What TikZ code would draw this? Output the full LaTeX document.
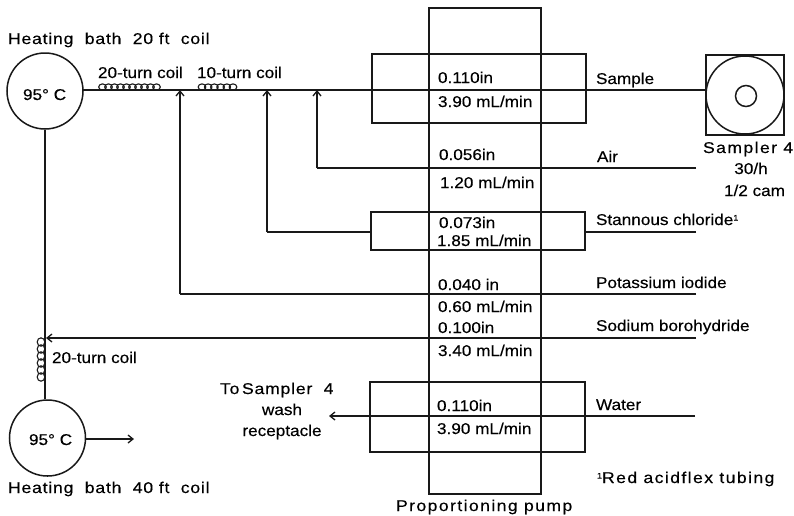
\documentclass[tikz,border=0pt]{standalone}
\usetikzlibrary{arrows.meta}
\usepackage{fontspec}
\setmainfont{Liberation Sans}[FakeStretch=1.1,FakeBold=0.3]
\newfontfamily\wide{Liberation Sans}[FakeStretch=1.13,LetterSpace=5,FakeBold=0.3]
\newfontfamily\widest{Liberation Sans}[FakeStretch=1.13,LetterSpace=9,FakeBold=0.3]
\begin{document}
\begin{tikzpicture}[x=1pt,y=-1pt,
  pipe/.style={line width=1.1pt,black!90},
  rim/.style={line width=1.5pt,black!90},
  flow/.style={pipe,-{Straight Barb[length=5pt,width=8pt,line width=1.3pt]}},
  lab/.style={anchor=base west,inner sep=0pt,outer sep=0pt,font=\fontsize{15.6}{17}\selectfont},
  widelab/.style={anchor=base west,inner sep=0pt,outer sep=0pt,font=\fontsize{15.6}{17}\selectfont\wide},
  widestlab/.style={anchor=base west,inner sep=0pt,outer sep=0pt,font=\fontsize{15.6}{17}\selectfont\widest},
  cen/.style={anchor=base,inner sep=0pt,outer sep=0pt,font=\fontsize{15.6}{17}\selectfont},
  bath/.style={circle,draw,rim,minimum size=76pt,inner sep=0pt},
  tube/.style={rectangle,draw,rim,inner sep=0pt},
  turn/.style={line width=1.1pt,black!90}
]
\useasboundingbox (0,0) rectangle (794,515);
% pump and tube boxes
\node[tube,minimum width=112pt,minimum height=486pt] (pump) at (485,251) {};
\node[tube,minimum width=214pt,minimum height=69pt] (sbox) at (479,88.5) {};
\node[tube,minimum width=214pt,minimum height=38pt] (cbox) at (478,231) {};
\node[tube,minimum width=215pt,minimum height=70pt] (wbox) at (477.5,417) {};
% baths and sampler
\node[bath] (b1) at (45,91) {};
\node[bath] (b2) at (47.5,438) {};
\node[tube,minimum width=78pt,minimum height=80pt] (samp) at (745,95) {};
\node[circle,draw,rim,minimum size=78pt,inner sep=0pt] (disc) at (745,95) {};
\node[circle,draw,rim,minimum size=21pt,inner sep=0pt] (hub) at (746,96) {};
% free ends
\coordinate (airR) at (696,168);
\coordinate (airJ) at (317,168);
\coordinate (airT) at (317,90);
\coordinate (clR) at (696,232);
\coordinate (clJ) at (267,232);
\coordinate (clT) at (267,90);
\coordinate (kR) at (696,294);
\coordinate (kJ) at (180,294);
\coordinate (kT) at (180,90);
\coordinate (naR) at (696,338);
\coordinate (naT) at (46,338);
\coordinate (wR) at (695,416);
\coordinate (wL) at (329,416);
\coordinate (out) at (134,439);
\coordinate (smpL) at (83,90);
% connectors
\draw[pipe] (smpL) -- (disc.west |- smpL);
\draw[pipe] (b1.south) -- (b1.south |- b2.north);
\draw[pipe] (airR) -- (airJ);
\draw[flow] (airJ) -- (airT);
\draw[pipe] (clR) -- (cbox.east |- clR);
\draw[pipe] (cbox.west |- clJ) -- (clJ);
\draw[flow] (clJ) -- (clT);
\draw[pipe] (kR) -- (kJ);
\draw[flow] (kJ) -- (kT);
\draw[flow] (naR) -- (naT);
\draw[flow] (wR) -- (wL);
\draw[flow] (b2.east |- out) -- (out);
% coils
\foreach \i in {0,...,9} \draw[turn] (102.5+\i*6,87) ellipse (3.8pt and 3.1pt);
\foreach \i in {0,...,5} \draw[turn] (202+\i*6.2,87) ellipse (3.8pt and 3.1pt);
\foreach \i in {0,...,5} \draw[turn] (41,342+\i*7) ellipse (3.8pt and 4.2pt);
% labels
\node[widelab] (t1) at (8,44) {Heating\ \ bath\ \ 20 ft\ \ coil};
\node[widelab] (t2) at (8,493) {Heating\ \ bath\ \ 40 ft\ \ coil};
\node[lab] (c1) at (23,100) {95° C};
\node[lab] (c2) at (29,445) {95° C};
\node[lab] (t3) at (98,78) {20-turn coil};
\node[lab] (t4) at (197,78) {10-turn coil};
\node[lab] (t5) at (52,363) {20-turn coil};
\node[lab] (p1) at (438,83) {0.110in};
\node[lab] (p2) at (438,107) {3.90 mL/min};
\node[lab] (p3) at (439,160) {0.056in};
\node[lab] (p4) at (440,188) {1.20 mL/min};
\node[lab] (p5) at (439,228) {0.073in};
\node[lab] (p6) at (437,246) {1.85 mL/min};
\node[lab] (p7) at (438,290) {0.040 in};
\node[lab] (p8) at (438,312) {0.60 mL/min};
\node[lab] (p9) at (438,333) {0.100in};
\node[lab] (p10) at (438,356) {3.40 mL/min};
\node[lab] (p11) at (437,411) {0.110in};
\node[lab] (p12) at (437,434) {3.90 mL/min};
\node[widestlab] (pp) at (396,511) {Proportioning pump};
\node[lab] (r1) at (596,84) {Sample};
\node[lab] (r2) at (597,162) {Air};
\node[lab] (r3) at (596,225) {Stannous chloride\raisebox{4.5pt}{\fontsize{8}{8}\selectfont 1}};
\node[lab] (r4) at (596,288) {Potassium iodide};
\node[lab] (r5) at (596,331) {Sodium borohydride};
\node[lab] (r6) at (596,410) {Water};
\node[widestlab] (r7) at (597,483) {\raisebox{4.5pt}{\fontsize{8}{8}\selectfont 1}Red acidflex tubing};
\node[widestlab] (s1) at (703,153) {Sampler 4};
\node[cen] (s2) at (751,174) {30/h};
\node[cen] (s3) at (754.5,196) {1/2 cam};
\node[widelab] (w1) at (220,394) {To\,Sampler\ \ 4};
\node[cen] (w2) at (282,415) {wash};
\node[cen] (w3) at (282,436) {receptacle};
\end{tikzpicture}
\end{document}
